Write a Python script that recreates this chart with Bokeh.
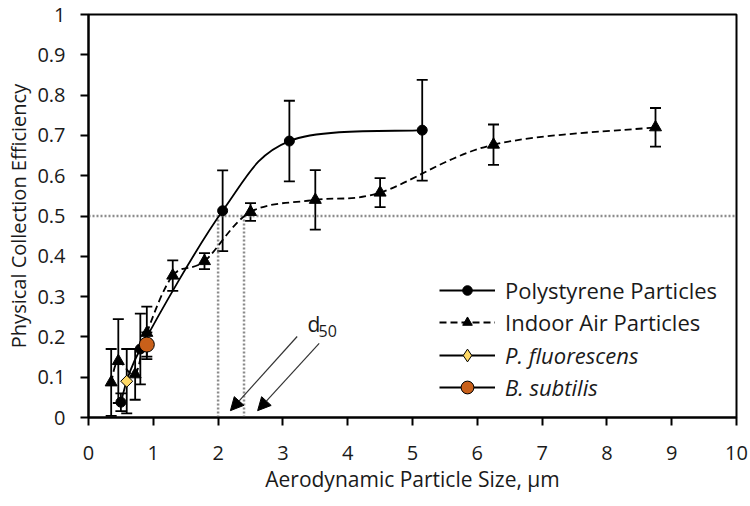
import numpy as np
from bokeh.plotting import figure
from bokeh.models import (Whisker, TeeHead, Arrow, NormalHead, Label, Legend, LegendItem,
                          ColumnDataSource, FixedTicker)
from bokeh.embed import file_html
from bokeh.resources import INLINE

# ---------------- data ----------------
poly_x = [0.5, 0.8, 2.07, 3.1, 5.15]
poly_y = [0.038, 0.17, 0.513, 0.686, 0.713]
poly_err = [0.022, 0.088, 0.1, 0.1, 0.125]

indoor_x = [0.35, 0.46, 0.72, 0.9, 1.3, 1.79, 2.5, 3.5, 4.5, 6.25, 8.75]
indoor_y = [0.087, 0.14, 0.107, 0.21, 0.352, 0.388, 0.51, 0.54, 0.558, 0.677, 0.72]
indoor_err = [0.083, 0.104, 0.063, 0.065, 0.038, 0.02, 0.022, 0.074, 0.036, 0.05, 0.048]

pfluor_x = [0.59]
pfluor_y = [0.09]
pfluor_err = [0.08]

bsub_x = [0.9]
bsub_y = [0.181]
bsub_err = [0.03]

x_ticks = [0, 1, 2, 3, 4, 5, 6, 7, 8, 9, 10]
y_ticks = [0, 0.1, 0.2, 0.3, 0.4, 0.5, 0.6, 0.7, 0.8, 0.9, 1]
y_tick_labels = ["0", "0.1", "0.2", "0.3", "0.4", "0.5", "0.6", "0.7", "0.8", "0.9", "1"]

d50_level = [0.5]
d50_x = [2.0, 2.4]
arrow_x0 = [3.22, 3.56]
arrow_y0 = [0.201, 0.184]
arrow_x1 = [2.19, 2.61]
arrow_y1 = [0.017, 0.017]
d_label_pos = (3.38, 0.231)
sub_label_pos = (3.55, 0.214)

FONT = "Open Sans"
TEXT = "#1a1a1a"


def bezier_segments(xs, ys, k=1/6):
    xs = np.asarray(xs, float)
    ys = np.asarray(ys, float)
    n = len(xs)
    px = np.concatenate([[xs[0]], xs, [xs[-1]]])
    py = np.concatenate([[ys[0]], ys, [ys[-1]]])
    d = dict(x0=[], y0=[], x1=[], y1=[], cx0=[], cy0=[], cx1=[], cy1=[])
    for i in range(n - 1):
        a, b, c, e = i, i + 1, i + 2, i + 3
        d["x0"].append(px[b]); d["y0"].append(py[b])
        d["x1"].append(px[c]); d["y1"].append(py[c])
        d["cx0"].append(px[b] + (px[c] - px[a]) * k)
        d["cy0"].append(py[b] + (py[c] - py[a]) * k)
        d["cx1"].append(px[c] - (px[e] - px[b]) * k)
        d["cy1"].append(py[c] - (py[e] - py[b]) * k)
    return ColumnDataSource(d)


p = figure(width=750, height=506, x_range=(0, 10), y_range=(0, 1),
           output_backend="svg", toolbar_location=None,
           min_border_left=88, min_border_right=14, min_border_top=14, min_border_bottom=89)
p.xgrid.visible = False
p.ygrid.visible = False
p.outline_line_color = "black"
p.outline_line_width = 2
p.background_fill_color = "white"
p.border_fill_color = "white"

for ax in (p.xaxis[0], p.yaxis[0]):
    ax.axis_line_width = 2
    ax.axis_line_color = "black"
    ax.major_tick_line_width = 2
    ax.major_tick_line_color = "black"
    ax.major_tick_out = 8
    ax.major_tick_in = 0
    ax.minor_tick_out = 0
    ax.minor_tick_in = 0
    ax.major_label_text_font = FONT
    ax.major_label_text_font_size = "20px"
    ax.major_label_text_color = TEXT
    ax.axis_label_text_font = FONT
    ax.axis_label_text_color = TEXT
    ax.axis_label_text_font_style = "normal"

p.xaxis.axis_label_text_font_size = "21px"
p.yaxis.axis_label_text_font_size = "20px"
p.xaxis.ticker = FixedTicker(ticks=x_ticks)
p.yaxis.ticker = FixedTicker(ticks=y_ticks)
p.yaxis.major_label_overrides = {t: l for t, l in zip(y_ticks, y_tick_labels)}
p.xaxis.major_label_standoff = 20
p.yaxis.major_label_standoff = 15
p.xaxis.axis_label = "Aerodynamic Particle Size, µm"
p.yaxis.axis_label = "Physical Collection Efficiency"
p.xaxis.axis_label_standoff = 2
p.yaxis.axis_label_standoff = 2

# d50 reference lines
DOT = "#8c8c8c"
p.segment(x0=[x_ticks[0]], y0=d50_level, x1=[x_ticks[-1]], y1=d50_level,
          line_color=DOT, line_width=2.5, line_dash="2 2")
p.segment(x0=d50_x, y0=[0, 0], x1=d50_x, y1=d50_level * 2,
          line_color=DOT, line_width=2.5, line_dash="2 2")

# curves
poly_curve = p.bezier(source=bezier_segments(poly_x, poly_y), x0="x0", y0="y0", x1="x1", y1="y1",
                      cx0="cx0", cy0="cy0", cx1="cx1", cy1="cy1", line_color="black", line_width=1.8)
indoor_curve = p.bezier(source=bezier_segments(indoor_x, indoor_y), x0="x0", y0="y0", x1="x1", y1="y1",
                        cx0="cx0", cy0="cy0", cx1="cx1", cy1="cy1", line_color="black", line_width=1.8,
                        line_dash="7 4")


def add_err(xs, ys, es):
    src = ColumnDataSource(dict(x=xs, lower=[y - e for y, e in zip(ys, es)],
                                upper=[y + e for y, e in zip(ys, es)]))
    w = Whisker(base="x", lower="lower", upper="upper", source=src,
                line_color="black", line_width=1.8,
                upper_head=TeeHead(size=11, line_width=1.8, line_color="black"),
                lower_head=TeeHead(size=11, line_width=1.8, line_color="black"))
    p.add_layout(w)


add_err(poly_x, poly_y, poly_err)
add_err(indoor_x, indoor_y, indoor_err)
add_err(pfluor_x, pfluor_y, pfluor_err)
add_err(bsub_x, bsub_y, bsub_err)

YELLOW = "#FFD966"
ORANGE = "#C9601A"
poly_pts = p.scatter(poly_x, poly_y, marker="circle", size=10, fill_color="black", line_color="black")
indoor_pts = p.scatter(indoor_x, indoor_y, marker="triangle", size=12, fill_color="black", line_color="black")
pf_line = p.line(pfluor_x, pfluor_y, line_color="black", line_width=1.8)
# diamond used for the legend key (hidden under the plotted marker)
pf_legend_marker = p.scatter(pfluor_x, pfluor_y, marker="diamond", size=8, fill_color=YELLOW,
                             line_color="black", line_width=1)
pf_pts = p.scatter(pfluor_x, pfluor_y, marker="square", angle=np.pi / 4, size=8.5,
                   fill_color=YELLOW, line_color="black", line_width=1)
bs_line = p.line(bsub_x, bsub_y, line_color="black", line_width=1.8)
bs_pts = p.scatter(bsub_x, bsub_y, marker="circle", size=15,
                   fill_color=ORANGE, line_color="black", line_width=1)

# arrows and d50 label
asrc = ColumnDataSource(dict(x0=arrow_x0, y0=arrow_y0, x1=arrow_x1, y1=arrow_y1))
p.add_layout(Arrow(x_start="x0", y_start="y0", x_end="x1", y_end="y1", source=asrc,
                   line_color="#333333", line_width=1.2,
                   end=NormalHead(size=13, fill_color="black", line_color="black")))
p.add_layout(Label(x=d_label_pos[0], y=d_label_pos[1], text="d", text_font=FONT,
                   text_font_size="21px", text_color=TEXT, text_baseline="alphabetic"))
p.add_layout(Label(x=sub_label_pos[0], y=sub_label_pos[1], text="50", text_font=FONT,
                   text_font_size="16px", text_color=TEXT, text_baseline="alphabetic"))

# legends
leg1 = Legend(items=[LegendItem(label="Polystyrene Particles", renderers=[poly_curve, poly_pts]),
                     LegendItem(label="Indoor Air Particles", renderers=[indoor_curve, indoor_pts])],
              location=(351, 80), glyph_width=56, glyph_height=24, label_height=20, spacing=2,
              padding=0, margin=0, label_standoff=10, border_line_color=None,
              background_fill_alpha=0, label_text_font=FONT, label_text_font_size="22px",
              label_text_color=TEXT)
leg2 = Legend(items=[LegendItem(label="P. fluorescens", renderers=[pf_line, pf_legend_marker]),
                     LegendItem(label="B. subtilis", renderers=[bs_line, bs_pts])],
              location=(351, 14), glyph_width=56, glyph_height=32, label_height=20, spacing=0,
              padding=0, margin=0, label_standoff=10, border_line_color=None,
              background_fill_alpha=0, label_text_font=FONT, label_text_font_size="22px",
              label_text_font_style="italic", label_text_color=TEXT)
p.add_layout(leg1)
p.add_layout(leg2)

open("out.html", "w").write(file_html(p, INLINE))
